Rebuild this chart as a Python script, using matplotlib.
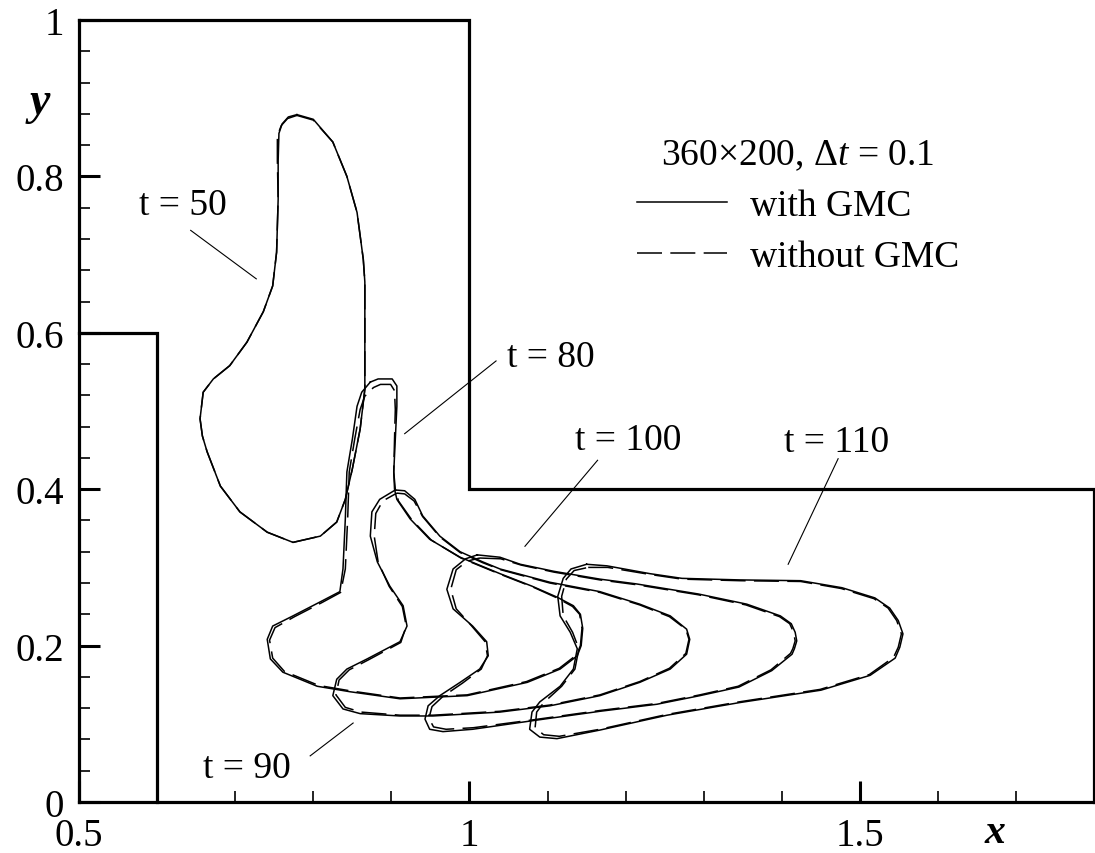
import matplotlib
matplotlib.use("Agg")
import matplotlib.pyplot as plt
from matplotlib.ticker import FixedLocator

plt.rcParams['font.family'] = ['Liberation Serif', 'DejaVu Serif']
plt.rcParams['mathtext.fontset'] = 'custom'
plt.rcParams['mathtext.rm'] = 'Liberation Serif'
plt.rcParams['mathtext.it'] = 'Liberation Serif:italic'
plt.rcParams['lines.scale_dashes'] = False

# ---- interface contours (x, y); "gmc" = with GMC, "plain" = without GMC ----
x50_gmc = [0.779, 0.768, 0.760, 0.756, 0.755, 0.755, 0.753, 0.748, 0.736, 0.715, 0.693, 0.672, 0.659,
           0.655, 0.658, 0.664, 0.681, 0.706, 0.741, 0.774, 0.809, 0.830, 0.841, 0.850, 0.860, 0.866,
           0.866, 0.864, 0.856, 0.843, 0.825, 0.800, 0.779]
y50_gmc = [0.879, 0.876, 0.867, 0.855, 0.820, 0.771, 0.703, 0.660, 0.627, 0.588, 0.558, 0.541, 0.524,
           0.490, 0.468, 0.448, 0.404, 0.371, 0.345, 0.332, 0.340, 0.358, 0.387, 0.426, 0.477, 0.528,
           0.665, 0.694, 0.754, 0.800, 0.844, 0.873, 0.879]
x50_plain = [0.779, 0.767, 0.759, 0.754, 0.754, 0.755, 0.753, 0.748, 0.736, 0.715, 0.693, 0.672, 0.659,
             0.655, 0.658, 0.664, 0.681, 0.706, 0.741, 0.774, 0.809, 0.830, 0.841, 0.850, 0.860, 0.866,
             0.866, 0.864, 0.856, 0.843, 0.825, 0.800, 0.779]
y50_plain = [0.878, 0.874, 0.865, 0.852, 0.820, 0.771, 0.703, 0.660, 0.627, 0.588, 0.558, 0.541, 0.524,
             0.490, 0.468, 0.448, 0.404, 0.371, 0.345, 0.332, 0.340, 0.358, 0.387, 0.426, 0.477, 0.528,
             0.665, 0.694, 0.754, 0.800, 0.844, 0.872, 0.878]

x80_gmc = [0.873, 0.883, 0.901, 0.907, 0.907, 0.905, 0.903, 0.904, 0.907, 0.924, 0.949, 0.988, 1.039,
           1.080, 1.112, 1.133, 1.142, 1.145, 1.143, 1.138, 1.116, 1.074, 0.997, 0.911, 0.847, 0.805,
           0.761, 0.745, 0.741, 0.748, 0.774, 0.809, 0.834, 0.838, 0.841, 0.843, 0.850, 0.856, 0.862,
           0.873]
y80_gmc = [0.537, 0.541, 0.541, 0.532, 0.506, 0.464, 0.422, 0.400, 0.387, 0.362, 0.336, 0.313, 0.292,
           0.276, 0.262, 0.251, 0.240, 0.222, 0.200, 0.187, 0.170, 0.153, 0.136, 0.132, 0.141, 0.148,
           0.166, 0.183, 0.208, 0.225, 0.238, 0.256, 0.269, 0.298, 0.362, 0.422, 0.464, 0.506, 0.524,
           0.537]
x80_plain = [0.877, 0.886, 0.899, 0.904, 0.905, 0.904, 0.903, 0.905, 0.909, 0.926, 0.951, 0.989, 1.040,
             1.081, 1.112, 1.132, 1.141, 1.144, 1.142, 1.137, 1.115, 1.073, 0.997, 0.911, 0.848, 0.807,
             0.763, 0.748, 0.744, 0.751, 0.776, 0.811, 0.835, 0.841, 0.844, 0.846, 0.853, 0.860, 0.866,
             0.877]
y80_plain = [0.530, 0.534, 0.534, 0.526, 0.502, 0.464, 0.422, 0.400, 0.385, 0.361, 0.335, 0.312, 0.291,
             0.275, 0.261, 0.250, 0.240, 0.222, 0.200, 0.188, 0.171, 0.154, 0.137, 0.133, 0.142, 0.149,
             0.167, 0.184, 0.207, 0.223, 0.237, 0.255, 0.268, 0.298, 0.362, 0.422, 0.464, 0.502, 0.519,
             0.530]

x90_gmc = [0.905, 0.917, 0.930, 0.940, 0.962, 0.988, 1.017, 1.039, 1.103, 1.167, 1.218, 1.257, 1.278,
           1.282, 1.278, 1.257, 1.218, 1.167, 1.103, 1.039, 0.953, 0.911, 0.860, 0.838, 0.825, 0.830,
           0.843, 0.869, 0.911, 0.920, 0.915, 0.898, 0.882, 0.873, 0.875, 0.885, 0.905]
y90_gmc = [0.399, 0.398, 0.387, 0.366, 0.340, 0.320, 0.307, 0.298, 0.281, 0.269, 0.253, 0.238, 0.221,
           0.208, 0.189, 0.170, 0.153, 0.136, 0.123, 0.115, 0.110, 0.110, 0.113, 0.119, 0.136, 0.157,
           0.170, 0.183, 0.205, 0.225, 0.251, 0.276, 0.307, 0.340, 0.371, 0.387, 0.399]
x90_plain = [0.907, 0.917, 0.929, 0.940, 0.962, 0.988, 1.017, 1.040, 1.103, 1.167, 1.218, 1.256, 1.277,
             1.281, 1.277, 1.256, 1.218, 1.167, 1.103, 1.039, 0.953, 0.911, 0.861, 0.841, 0.829, 0.833,
             0.846, 0.871, 0.912, 0.919, 0.914, 0.897, 0.883, 0.878, 0.880, 0.889, 0.907]
y90_plain = [0.395, 0.394, 0.385, 0.365, 0.339, 0.319, 0.306, 0.297, 0.280, 0.268, 0.252, 0.237, 0.221,
             0.208, 0.190, 0.171, 0.154, 0.137, 0.124, 0.116, 0.111, 0.111, 0.115, 0.121, 0.137, 0.156,
             0.169, 0.182, 0.204, 0.225, 0.250, 0.276, 0.307, 0.340, 0.369, 0.385, 0.395]

x100_gmc = [1.010, 1.039, 1.065, 1.108, 1.167, 1.213, 1.293, 1.355, 1.398, 1.412, 1.417, 1.419, 1.416,
            1.413, 1.387, 1.345, 1.295, 1.240, 1.167, 1.081, 1.004, 0.966, 0.949, 0.943, 0.947, 0.962,
            0.988, 1.013, 1.024, 1.022, 1.004, 0.979, 0.971, 0.979, 0.995, 1.010]
y100_gmc = [0.316, 0.313, 0.304, 0.295, 0.285, 0.279, 0.266, 0.253, 0.238, 0.228, 0.217, 0.206, 0.196,
            0.189, 0.168, 0.147, 0.136, 0.125, 0.116, 0.104, 0.093, 0.090, 0.093, 0.106, 0.123, 0.136,
            0.153, 0.170, 0.187, 0.205, 0.225, 0.247, 0.272, 0.298, 0.311, 0.316]
x100_plain = [1.013, 1.040, 1.066, 1.108, 1.167, 1.213, 1.293, 1.354, 1.397, 1.410, 1.415, 1.417, 1.414,
              1.411, 1.386, 1.344, 1.295, 1.240, 1.167, 1.081, 1.005, 0.970, 0.954, 0.948, 0.952, 0.966,
              0.991, 1.015, 1.023, 1.020, 1.002, 0.983, 0.976, 0.983, 0.997, 1.013]
y100_plain = [0.312, 0.311, 0.303, 0.294, 0.284, 0.278, 0.265, 0.252, 0.237, 0.228, 0.217, 0.206, 0.196,
              0.190, 0.169, 0.148, 0.137, 0.126, 0.117, 0.105, 0.095, 0.093, 0.096, 0.107, 0.122, 0.135,
              0.152, 0.170, 0.187, 0.205, 0.226, 0.247, 0.272, 0.297, 0.308, 0.312]

x110_gmc = [1.150, 1.176, 1.231, 1.272, 1.346, 1.424, 1.477, 1.519, 1.538, 1.549, 1.555, 1.551, 1.545,
            1.513, 1.450, 1.345, 1.253, 1.167, 1.112, 1.090, 1.077, 1.080, 1.090, 1.116, 1.133, 1.138,
            1.129, 1.116, 1.113, 1.120, 1.130, 1.150]
y110_gmc = [0.304, 0.302, 0.292, 0.286, 0.284, 0.283, 0.274, 0.261, 0.248, 0.232, 0.215, 0.198, 0.184,
            0.162, 0.143, 0.127, 0.111, 0.092, 0.081, 0.083, 0.093, 0.115, 0.128, 0.148, 0.170, 0.196,
            0.217, 0.238, 0.263, 0.286, 0.298, 0.304]
x110_plain = [1.152, 1.177, 1.231, 1.272, 1.346, 1.424, 1.476, 1.518, 1.536, 1.547, 1.553, 1.549, 1.543,
              1.512, 1.449, 1.345, 1.253, 1.167, 1.115, 1.095, 1.084, 1.086, 1.095, 1.118, 1.135, 1.140,
              1.132, 1.120, 1.118, 1.124, 1.134, 1.152]
y110_plain = [0.300, 0.300, 0.291, 0.285, 0.283, 0.282, 0.273, 0.260, 0.248, 0.232, 0.215, 0.198, 0.185,
              0.163, 0.144, 0.128, 0.112, 0.093, 0.084, 0.086, 0.095, 0.115, 0.127, 0.148, 0.170, 0.196,
              0.217, 0.238, 0.263, 0.285, 0.296, 0.300]

# ---- channel walls ----
wall_left_x = [0.5, 0.6, 0.6]
wall_left_y = [0.6, 0.6, 0.0]
wall_right_x = [0.5, 1.0, 1.0, 1.8, 1.8]
wall_right_y = [1.0, 1.0, 0.4, 0.4, 0.0]

# ---- time labels and leader lines ----
time_labels = ['t = 50', 't = 80', 't = 90', 't = 100', 't = 110']
label_x = [0.577, 1.048, 0.659, 1.135, 1.403]
label_y = [0.752, 0.558, 0.032, 0.451, 0.449]
leader_x = [(0.643, 0.727), (1.034, 0.917), (0.796, 0.851), (1.164, 1.071), (1.472, 1.408)]
leader_y = [(0.731, 0.669), (0.564, 0.471), (0.059, 0.101), (0.437, 0.327), (0.439, 0.304)]

# ---- axis ticks ----
x_major = [0.5, 1.0, 1.5]
x_major_labels = ['0.5', '1', '1.5']
x_minor = [0.6, 0.7, 0.8, 0.9, 1.1, 1.2, 1.3, 1.4, 1.6, 1.7, 1.8]
y_major = [0.0, 0.2, 0.4, 0.6, 0.8, 1.0]
y_major_labels = ['0', '0.2', '0.4', '0.6', '0.8', '1']
y_minor = [0.04, 0.08, 0.12, 0.16, 0.24, 0.28, 0.32, 0.36, 0.44, 0.48, 0.52, 0.56,
           0.64, 0.68, 0.72, 0.76, 0.84, 0.88, 0.92, 0.96]

W, H = 1095, 854
fig = plt.figure(figsize=(W / 100, H / 100), dpi=100)
ax = fig.add_axes([79 / W, 51 / H, 1.31 * 781 / W, 782 / H])
ax.set_xlim(0.5, 1.81)
ax.set_ylim(0.0, 1.0)

curve_lw = 1.1
dash = (0, (18, 6))
solid_handle = None
dashed_handle = None
for xs, ys, xd, yd in [(x50_gmc, y50_gmc, x50_plain, y50_plain),
                       (x80_gmc, y80_gmc, x80_plain, y80_plain),
                       (x90_gmc, y90_gmc, x90_plain, y90_plain),
                       (x100_gmc, y100_gmc, x100_plain, y100_plain),
                       (x110_gmc, y110_gmc, x110_plain, y110_plain)]:
    dashed_handle, = ax.plot(xd, yd, color='black', lw=curve_lw, linestyle=dash)
    solid_handle, = ax.plot(xs, ys, color='black', lw=curve_lw)

wall_lw = 2.3
ax.plot(wall_left_x, wall_left_y, color='black', lw=wall_lw, clip_on=False, solid_joinstyle='miter')
ax.plot(wall_right_x, wall_right_y, color='black', lw=wall_lw, clip_on=False, solid_joinstyle='miter')

for txt, tx, ty, lx, ly in zip(time_labels, label_x, label_y, leader_x, leader_y):
    ax.text(tx, ty, txt, fontsize=27, ha='left', va='baseline')
    ax.plot(lx, ly, color='black', lw=0.8)

# spines: only left and bottom form the frame
for side in ['top', 'right']:
    ax.spines[side].set_visible(False)
for side in ['left', 'bottom']:
    ax.spines[side].set_linewidth(wall_lw)
ax.spines['bottom'].set_bounds(0.5, 1.8)

ax.xaxis.set_major_locator(FixedLocator(x_major))
ax.xaxis.set_minor_locator(FixedLocator(x_minor))
ax.yaxis.set_major_locator(FixedLocator(y_major))
ax.yaxis.set_minor_locator(FixedLocator(y_minor))
ax.set_xticklabels(x_major_labels)
ax.set_yticklabels(y_major_labels)
ax.tick_params(which='major', direction='in', length=15, width=2.2, labelsize=28, pad=11,
               top=False, right=False)
ax.tick_params(which='minor', direction='in', length=8, width=1.2, top=False, right=False)

fig.text(40 / W, 1 - 103 / H, 'y', fontsize=33, fontstyle='italic', fontweight='bold',
         ha='center', va='center')
fig.text(995 / W, 1 - 843 / H, 'x', fontsize=30, fontstyle='italic', fontweight='bold',
         ha='center', va='baseline')

leg = ax.legend([solid_handle, dashed_handle], ['with GMC', 'without GMC'],
                title='360×200, Δ$\\mathit{t}$ = 0.1', title_fontsize=27, fontsize=27,
                loc='upper left', bbox_to_anchor=(637 / W, 1 - 139 / H),
                bbox_transform=fig.transFigure, frameon=False, borderpad=0, borderaxespad=0,
                handlelength=2.4, handletextpad=0.61, labelspacing=0.43)

fig.savefig('out.png', dpi=100)
